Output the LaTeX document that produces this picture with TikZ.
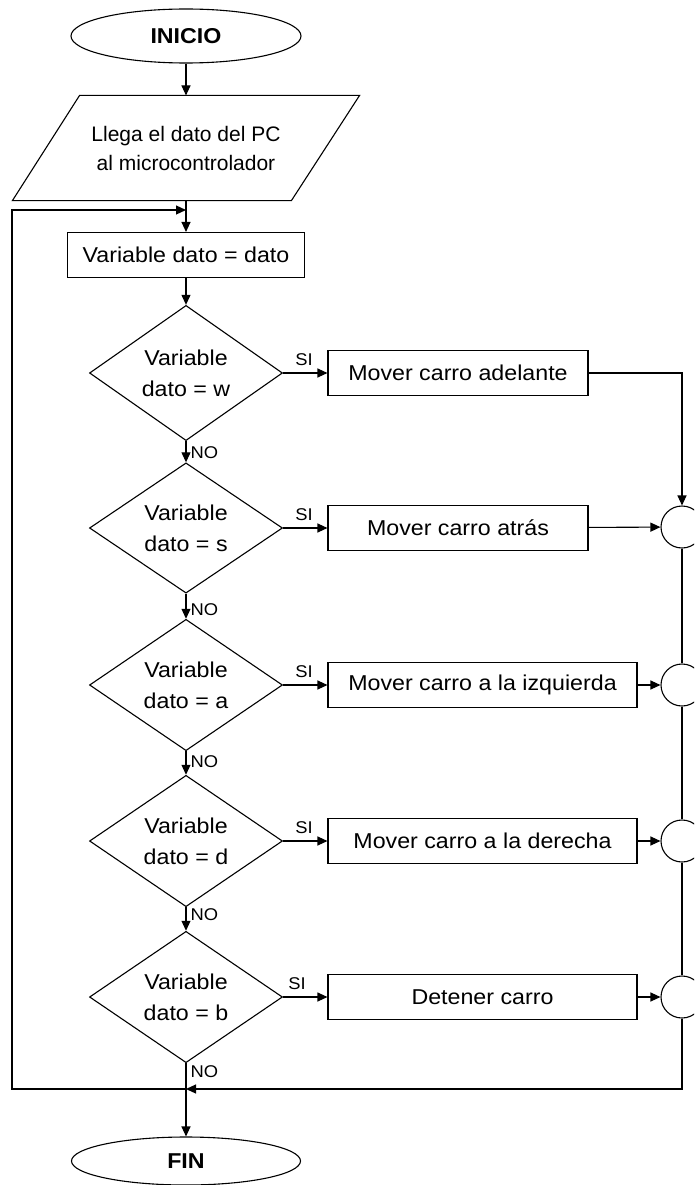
\documentclass[tikz,border=0pt]{standalone}
\usepackage{fontspec}
\setmainfont{Liberation Sans}
\newfontfamily\widesans{Liberation Sans}[FakeStretch=1.08]
\usetikzlibrary{shapes.geometric,arrows.meta,calc}

\begin{document}
\begin{tikzpicture}[x=1pt,y=-1pt,
  line width=1.1pt,
  every node/.style={font=\widesans\fontsize{21.5}{25}\selectfont, text=black},
  flow/.style={-{Triangle[length=10pt,width=9pt]}},
  terminal/.style={draw, ellipse, minimum width=230, minimum height=54, inner sep=0pt,
    font=\widesans\fontsize{21.5}{25}\selectfont\bfseries},
  procbox/.style={draw, rectangle, minimum height=45, inner sep=0pt},
  decision/.style={draw, diamond, minimum width=193, minimum height=122, inner sep=0pt,
    align=center, font=\widesans\fontsize{21.5}{31}\selectfont},
  joint/.style={draw, circle, minimum size=42, inner sep=0pt},
  tag/.style={font=\widesans\fontsize{17}{18}\selectfont, inner sep=0pt},
]
\path[use as bounding box] (0,0) rectangle (694,1185);
\clip (0,0) rectangle (694,1185);

% start and input
\node[terminal] (inicio) at (186,36) {INICIO};
\node[minimum width=346, minimum height=104, inner sep=0pt, align=center,
  font=\fontsize{21}{29}\selectfont] (llega) at (186,148)
  {Llega el dato del PC\\al microcontrolador};
\draw (llega.south west) -- ++(279,0) -- (llega.north east) -- ++(-280,0) -- cycle;
\node[procbox, minimum width=237] (asig) at (186,255) {Variable dato = dato};

% decisions
\node[decision] (d1) at (186,373) {Variable\\dato = w};
\node[decision] (d2) at (186,528) {Variable\\dato = s};
\node[decision] (d3) at (186,685) {Variable\\dato = a};
\node[decision] (d4) at (186,841) {Variable\\dato = d};
\node[decision] (d5) at (186,997) {Variable\\dato = b};

% actions
\node[procbox, minimum width=260] (b1) at (458,373) {Mover carro adelante};
\node[procbox, minimum width=260] (b2) at (458,528) {Mover carro atrás};
\node[procbox, minimum width=309] (b3) at (482.5,685) {Mover carro a la izquierda};
\node[procbox, minimum width=309] (b4) at (482.5,841) {Mover carro a la derecha};
\node[procbox, minimum width=309] (b5) at (482.5,997) {Detener carro};

% junctions
\node[joint] (c2) at (682,527) {};
\node[joint] (c3) at (682,685) {};
\node[joint] (c4) at (682,841) {};
\node[joint] (c5) at (682,997) {};

\node[terminal, minimum width=229, minimum height=48] (fin) at (186,1161) {FIN};

% loop corners
\coordinate (m0) at (186,210);
\coordinate (m1) at (186,1089);
\coordinate (lb) at (12,1089);

% main flow
\draw[flow] (inicio) -- (llega.north);
\draw[flow] (llega.south) -- (asig.north);
\draw[flow] (asig) -- (d1);
\draw[flow] (d1) -- (d2);
\draw[flow] (d2) -- (d3);
\draw[flow] (d3) -- (d4);
\draw[flow] (d4) -- (d5);
\draw[flow] (d5) -- (fin);

% yes branches
\draw[flow] (d1) -- (b1);
\draw[flow] (d2) -- (b2);
\draw[flow] (d3) -- (b3);
\draw[flow] (d4) -- (b4);
\draw[flow] (d5) -- (b5);

\draw[flow] (b1.east) -| (c2.north);
\draw[flow] (b2) -- (c2);
\draw[flow] (b3) -- (c3);
\draw[flow] (b4) -- (c4);
\draw[flow] (b5) -- (c5);
\draw (c2) -- (c3);
\draw (c3) -- (c4);
\draw (c4) -- (c5);

% return loop
\draw[flow] (c5.south) |- (m1);
\draw[flow] (m1) -- (lb) |- (m0);

% branch labels
\node[tag, anchor=base] (si1) at ($(d1.east)+(21,-8)$) {SI};
\node[tag, anchor=base] (si2) at ($(d2.east)+(21,-8)$) {SI};
\node[tag, anchor=base] (si3) at ($(d3.east)+(21,-8)$) {SI};
\node[tag, anchor=base] (si4) at ($(d4.east)+(21,-8)$) {SI};
\node[tag, anchor=base] (si5) at ($(d5.east)+(14,-8)$) {SI};
\node[tag, anchor=base west] (no1) at (190,458) {NO};
\node[tag, anchor=base west] (no2) at (190,615) {NO};
\node[tag, anchor=base west] (no3) at (190,767) {NO};
\node[tag, anchor=base west] (no4) at (190,920) {NO};
\node[tag, anchor=base west] (no5) at (190,1077) {NO};
\end{tikzpicture}
\end{document}
